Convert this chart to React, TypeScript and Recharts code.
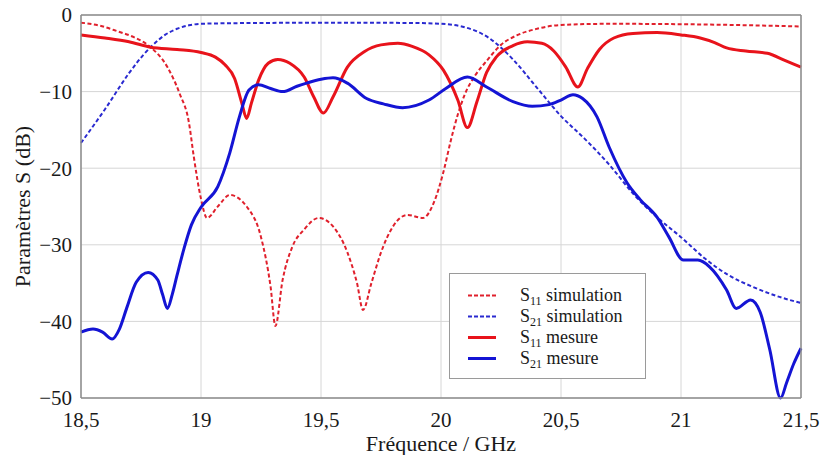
import React from "react";
import { LineChart, Line, XAxis, YAxis, CartesianGrid } from "recharts";

const serif = "Liberation Serif, DejaVu Serif, serif";

// S11 simulation (dotted red)
const s11SimFreq = [18.5, 18.58, 18.65, 18.72, 18.79, 18.86, 18.91, 18.95, 18.97, 19.0, 19.025, 19.07, 19.12, 19.19, 19.25, 19.29, 19.31, 19.34, 19.38, 19.43, 19.49, 19.55, 19.61, 19.65, 19.675, 19.71, 19.75, 19.8, 19.86, 19.925, 19.97, 20.01, 20.04, 20.07, 20.1, 20.14, 20.19, 20.25, 20.32, 20.4, 20.5, 20.7, 21.0, 21.3, 21.5];
const s11SimDb = [-1.0, -1.4, -2.1, -2.9, -4.2, -6.8, -10.2, -14.1, -18.5, -24.0, -26.5, -25.0, -23.5, -25.0, -29.0, -35.5, -40.6, -34.6, -30.3, -28.0, -26.5, -27.6, -31.0, -35.0, -38.5, -35.0, -31.0, -27.6, -26.1, -26.5, -24.5, -20.5, -16.5, -13.0, -10.3, -8.0, -6.0, -3.9, -2.6, -1.8, -1.3, -1.15, -1.2, -1.35, -1.5];

// S21 simulation (dotted blue)
const s21SimFreq = [18.5, 18.6, 18.7, 18.76, 18.8, 18.85, 18.9, 18.95, 19.0, 19.2, 19.6, 19.9, 20.0, 20.1, 20.2, 20.3, 20.4, 20.5, 20.6, 20.7, 20.8, 20.9, 21.0, 21.1, 21.2, 21.3, 21.4, 21.5];
const s21SimDb = [-16.7, -12.3, -7.6, -5.2, -3.9, -2.6, -1.8, -1.35, -1.15, -1.05, -1.0, -1.05, -1.15, -1.6, -3.0, -5.8, -9.5, -13.2, -16.2, -19.5, -23.3, -26.4, -29.0, -31.8, -34.0, -35.5, -36.7, -37.6];

// S11 mesure (solid red)
const s11MesFreq = [18.5, 18.6, 18.7, 18.79, 18.9, 19.0, 19.06, 19.1, 19.14, 19.17, 19.19, 19.21, 19.24, 19.28, 19.32, 19.37, 19.43, 19.47, 19.51, 19.55, 19.61, 19.68, 19.75, 19.82, 19.88, 19.95, 20.01, 20.07, 20.11, 20.15, 20.19, 20.23, 20.3, 20.36, 20.42, 20.47, 20.52, 20.57, 20.61, 20.66, 20.72, 20.8, 20.9, 21.0, 21.08, 21.14, 21.19, 21.27, 21.36, 21.43, 21.5];
const s11MesDb = [-2.6, -3.0, -3.5, -4.2, -4.5, -4.9, -5.5, -6.5, -8.3, -11.5, -13.5, -11.5, -8.5, -6.3, -5.8, -6.3, -8.1, -10.7, -12.8, -10.7, -6.8, -4.8, -3.9, -3.7, -4.1, -5.2, -7.2, -11.1, -14.7, -11.3, -7.5, -5.5, -4.0, -3.5, -3.7, -4.7, -6.8, -9.4, -7.0, -4.5, -3.0, -2.4, -2.3, -2.6, -3.0, -3.6, -4.3, -4.7, -5.0, -5.9, -6.8];

// S21 mesure (solid blue)
const s21MesFreq = [18.5, 18.55, 18.59, 18.63, 18.66, 18.69, 18.73, 18.78, 18.82, 18.84, 18.86, 18.88, 18.9, 18.93, 18.96, 19.0, 19.07, 19.12, 19.16, 19.2, 19.24, 19.29, 19.34, 19.4, 19.44, 19.5, 19.55, 19.61, 19.69, 19.76, 19.84, 19.95, 20.02, 20.11, 20.19, 20.3, 20.38, 20.45, 20.5, 20.55, 20.59, 20.65, 20.7, 20.775, 20.83, 20.9, 20.95, 21.01, 21.07, 21.12, 21.19, 21.23, 21.29, 21.33, 21.37, 21.415, 21.44, 21.47, 21.5];
const s21MesDb = [-41.4, -41.0, -41.4, -42.3, -41.0, -38.3, -34.9, -33.6, -34.6, -36.5, -38.3, -36.5, -34.0, -30.4, -27.4, -25.1, -22.4, -18.0, -13.3, -9.8, -9.1, -9.6, -10.0, -9.3, -8.9, -8.4, -8.2, -8.9, -10.9, -11.6, -12.1, -11.1, -9.6, -8.1, -9.4, -11.3, -11.9, -11.7, -11.1, -10.4, -10.9, -13.3, -17.2, -21.9, -24.1, -26.4, -29.0, -32.0, -32.0, -32.9, -35.9, -38.3, -37.2, -38.8, -43.7, -50.0, -48.0, -45.5, -43.5];

const freqTicks = [18.5, 19, 19.5, 20, 20.5, 21, 21.5];
const freqMinorTicks = [18.5, 18.75, 19, 19.25, 19.5, 19.75, 20, 20.25, 20.5, 20.75, 21, 21.25, 21.5];
const dbTicks = [0, -10, -20, -30, -40, -50];
const dbMinorTicks = [0, -2, -4, -6, -8, -10, -12, -14, -16, -18, -20, -22, -24, -26, -28, -30, -32, -34, -36, -38, -40, -42, -44, -46, -48, -50];

const legendItems = [
  { sub: "11", text: "simulation", color: "#e0202c", dashed: true },
  { sub: "21", text: "simulation", color: "#2a2ad0", dashed: true },
  { sub: "11", text: "mesure", color: "#e8131b", dashed: false },
  { sub: "21", text: "mesure", color: "#1414d4", dashed: false },
];

const toPoints = (f: number[], v: number[]) => f.map((x, i) => ({ f: x, db: v[i] }));

const fmtFreq = (v: number) => String(v).replace(".", ",");
const fmtDb = (v: number) => (v < 0 ? "\u2212" + Math.abs(v) : String(v));

const frame = "#8c8c8c";
const tickStyle = { fontFamily: serif, fontSize: 21, fill: "#1a1a1a" };

export default function App() {
  return (
    <div style={{ position: "absolute", left: 0, top: 0, width: 821, height: 455, background: "#fff", fontFamily: serif }}>
      <LineChart width={821} height={455} margin={{ top: 15, right: 20, bottom: 0, left: 0 }} style={{ fontFamily: serif }}>
        <CartesianGrid stroke="#d6d6d6" strokeWidth={1} />
        <XAxis
          dataKey="f"
          type="number"
          domain={[18.5, 21.5]}
          ticks={freqTicks}
          tickFormatter={fmtFreq}
          tick={tickStyle}
          tickLine={false}
          tickSize={6}
          tickMargin={8}
          height={57}
          axisLine={{ stroke: frame, strokeWidth: 1.5 }}
          label={{
            content: (p: any) => (
              <text x={p.viewBox.x + p.viewBox.width / 2} y={451} textAnchor="middle" style={{ fontFamily: serif, fontSize: 22 }} fill="#1a1a1a">
                Fréquence / GHz
              </text>
            ),
          }}
        />
        <XAxis xAxisId="minorBottom" type="number" domain={[18.5, 21.5]} ticks={freqMinorTicks} orientation="bottom" mirror tick={false} tickSize={5} tickLine={{ stroke: frame }} axisLine={false} />
        <XAxis xAxisId="top" type="number" domain={[18.5, 21.5]} ticks={freqMinorTicks} orientation="top" mirror tick={false} tickSize={5} tickLine={{ stroke: frame }} axisLine={{ stroke: frame, strokeWidth: 1.5 }} />
        <YAxis
          type="number"
          domain={[-50, 0]}
          ticks={dbTicks}
          tickFormatter={fmtDb}
          tick={tickStyle}
          tickLine={false}
          tickSize={6}
          tickMargin={3}
          width={81}
          axisLine={{ stroke: frame, strokeWidth: 1.5 }}
          label={{
            content: (p: any) => {
              const cy = p.viewBox.y + p.viewBox.height / 2;
              return (
                <text x={22} y={cy} transform={`rotate(-90 22 ${cy})`} textAnchor="middle" dominantBaseline="central" style={{ fontFamily: serif, fontSize: 22 }} fill="#1a1a1a">
                  Paramètres S (dB)
                </text>
              );
            },
          }}
        />
        <YAxis yAxisId="minorLeft" type="number" domain={[-50, 0]} ticks={dbMinorTicks} orientation="left" mirror tick={false} tickSize={5} tickLine={{ stroke: frame }} axisLine={false} />
        <YAxis yAxisId="right" type="number" domain={[-50, 0]} ticks={dbMinorTicks} orientation="right" mirror tick={false} tickSize={5} tickLine={{ stroke: frame }} axisLine={{ stroke: frame, strokeWidth: 1.5 }} />

        <Line data={toPoints(s11SimFreq, s11SimDb)} dataKey="db" type="monotone" stroke="#e0202c" strokeWidth={2} strokeDasharray="4 2.5" dot={false} activeDot={false} isAnimationActive={false} />
        <Line data={toPoints(s21SimFreq, s21SimDb)} dataKey="db" type="monotone" stroke="#2a2ad0" strokeWidth={2} strokeDasharray="4 2.5" dot={false} activeDot={false} isAnimationActive={false} />
        <Line data={toPoints(s11MesFreq, s11MesDb)} dataKey="db" type="monotone" stroke="#e8131b" strokeWidth={3} dot={false} activeDot={false} isAnimationActive={false} />
        <Line data={toPoints(s21MesFreq, s21MesDb)} dataKey="db" type="monotone" stroke="#1414d4" strokeWidth={3} dot={false} activeDot={false} isAnimationActive={false} />
      </LineChart>

      <div
        style={{
          position: "absolute",
          left: 449,
          top: 273,
          width: 197,
          height: 106,
          boxSizing: "border-box",
          border: "1.5px solid #9a9a9a",
          background: "#fff",
          paddingTop: 11,
          fontFamily: serif,
          fontSize: 18,
          color: "#1a1a1a",
        }}
      >
        {legendItems.map((it, i) => (
          <div key={i} style={{ position: "relative", height: 21, lineHeight: "21px" }}>
            <svg width={28} height={21} style={{ position: "absolute", left: 18, top: 0 }}>
              <line x1={0} y1={10.5} x2={28} y2={10.5} stroke={it.color} strokeWidth={it.dashed ? 2 : 3} strokeDasharray={it.dashed ? "4 2" : undefined} />
            </svg>
            <span style={{ position: "absolute", left: 70, top: 0, whiteSpace: "nowrap" }}>
              S<span style={{ fontSize: 12, position: "relative", top: 4 }}>{it.sub}</span> {it.text}
            </span>
          </div>
        ))}
      </div>
    </div>
  );
}
